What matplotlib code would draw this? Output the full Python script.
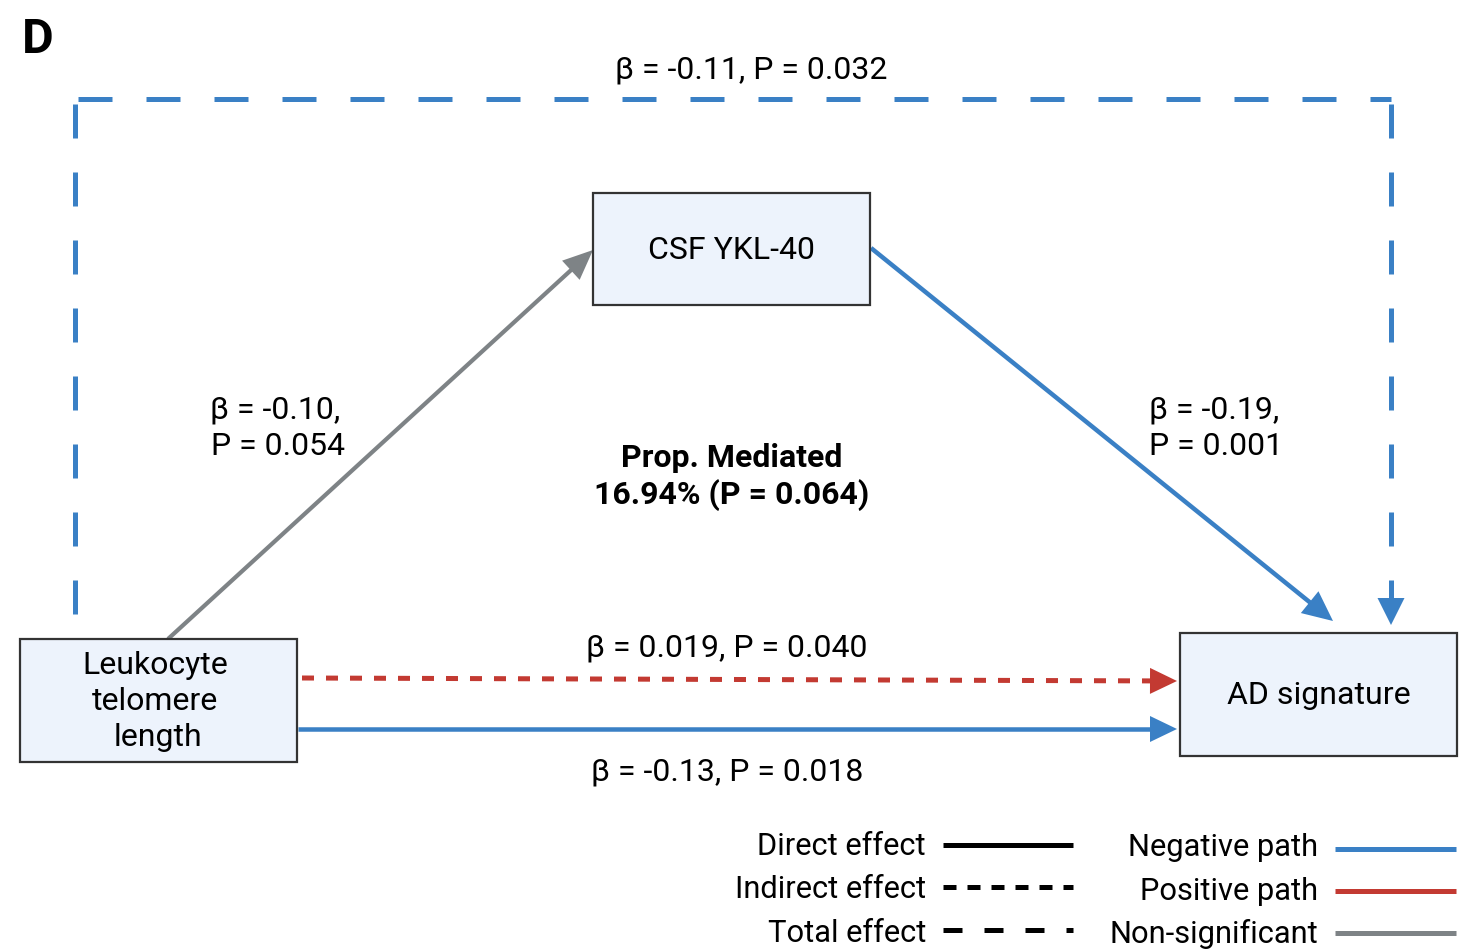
import matplotlib
matplotlib.use('Agg')
import matplotlib.pyplot as plt
from matplotlib.patches import Rectangle, Polygon
import numpy as np

# path estimates
node_names = ['Leukocyte\ntelomere\nlength', 'CSF YKL-40', 'AD signature']
total_beta, total_p = '-0.11', '0.032'
a_beta, a_p = '-0.10', '0.054'
b_beta, b_p = '-0.19', '0.001'
indirect_beta, indirect_p = '0.019', '0.040'
direct_beta, direct_p = '-0.13', '0.018'
prop_mediated, prop_p = '16.94', '0.064'
effect_labels = ['Direct effect', 'Indirect effect', 'Total effect']
sign_labels = ['Negative path', 'Positive path', 'Non-significant']

BLUE = '#3a80c5'
RED = '#c33a32'
GRAY = '#7e8386'
BOX_FC = '#edf3fc'
BOX_EC = '#333333'
PX = 0.72  # pixels -> points at dpi 100
FS = 23
FS_LEG = 22.2

plt.rcParams['font.family'] = ['Roboto', 'DejaVu Sans']
plt.rcParams['lines.scale_dashes'] = False

fig = plt.figure(figsize=(14.66, 9.51), dpi=100)
ax = fig.add_axes([0, 0, 1, 1])
ax.set_xlim(0, 1466)
ax.set_ylim(951, 0)
ax.axis('off')


def arrow(p0, p1, color, lw, dashes=None, hl=27, hw=27):
	p0 = np.array(p0, float)
	p1 = np.array(p1, float)
	u = (p1 - p0) / np.linalg.norm(p1 - p0)
	base = p1 - hl * u
	ls = '-' if dashes is None else (0, dashes)
	ax.plot([p0[0], base[0] + u[0]], [p0[1], base[1] + u[1]], color=color,
		lw=lw, ls=ls, solid_capstyle='butt', dash_capstyle='butt')
	perp = np.array([-u[1], u[0]])
	tri = [p1, base + perp * hw / 2, base - perp * hw / 2]
	ax.add_patch(Polygon(tri, closed=True, fc=color, ec='none'))


def box(x0, y0, x1, y1, lines, baselines, xc=None):
	ax.add_patch(Rectangle((x0, y0), x1 - x0, y1 - y0, fc=BOX_FC, ec=BOX_EC, lw=1.6, zorder=3))
	xc = xc or [(x0 + x1) / 2] * len(lines)
	for t, x, yb in zip(lines, xc, baselines):
		ax.text(x, yb, t, ha='center', va='baseline', fontsize=FS, zorder=4)


# total effect (dashed frame)
big = (0, (34 * PX, 34 * PX))
ax.plot([75, 75], [104, 615], color=BLUE, lw=5 * PX, ls=big, dash_capstyle='butt')
ax.plot([78, 1391], [99, 99], color=BLUE, lw=5 * PX, ls=big, dash_capstyle='butt')
arrow((1391, 104), (1391, 625), BLUE, 5 * PX, dashes=(34 * PX, 34 * PX), hl=27, hw=27)

# a path, b path
arrow((168, 639), (593, 250), GRAY, 4.2 * PX, hl=30, hw=26)
arrow((871, 248), (1333, 621), BLUE, 4.5 * PX, hl=30, hw=28)

# indirect and direct effects
arrow((302, 678), (1177, 681), RED, 5 * PX, dashes=(12 * PX, 12 * PX), hl=27, hw=26)
arrow((298, 729), (1177, 729), BLUE, 4.5 * PX, hl=27, hw=26)

box(20, 639, 297, 762, node_names[0].split('\n'), [674, 710, 746], xc=[155, 155, 158])
box(593, 193, 870, 305, [node_names[1]], [259])
box(1180, 633, 1457, 756, [node_names[2]], [704])

ax.text(22, 53, 'D', fontsize=35, fontweight='bold', va='baseline', ha='left')
ax.text(751, 78, f'\u03b2 = {total_beta}, P = {total_p}', fontsize=FS, ha='center', va='baseline')
ax.text(275, 419, f'\u03b2 = {a_beta},', fontsize=FS, ha='center', va='baseline')
ax.text(278, 455, f'P = {a_p}', fontsize=FS, ha='center', va='baseline')
ax.text(1214, 419, f'\u03b2 = {b_beta},', fontsize=FS, ha='center', va='baseline')
ax.text(1216, 455, f'P = {b_p}', fontsize=FS, ha='center', va='baseline')
ax.text(732, 467, 'Prop. Mediated', fontsize=FS, fontweight='bold', ha='center', va='baseline')
ax.text(732, 504, f'{prop_mediated}% (P = {prop_p})', fontsize=FS, fontweight='bold', ha='center', va='baseline')
ax.text(727, 657, f'\u03b2 = {indirect_beta}, P = {indirect_p}', fontsize=FS, ha='center', va='baseline')
ax.text(727, 781, f'\u03b2 = {direct_beta}, P = {direct_p}', fontsize=FS, ha='center', va='baseline')

# legend
eff_styles = ['-', (0, (13 * PX, 11 * PX)), (0, (19 * PX, 22 * PX))]
eff_y = [845, 887, 930]
eff_base = [855, 898, 942]
for lab, ls, y, yb in zip(effect_labels, eff_styles, eff_y, eff_base):
	ax.text(926, yb, lab, fontsize=FS_LEG, ha='right', va='baseline')
	ax.plot([943, 1073], [y, y], color='black', lw=5 * PX, ls=ls, solid_capstyle='butt', dash_capstyle='butt')

sign_colors = [BLUE, RED, GRAY]
sign_y = [849, 891, 933]
sign_base = [856, 900, 943]
for lab, c, y, yb in zip(sign_labels, sign_colors, sign_y, sign_base):
	ax.text(1318, yb, lab, fontsize=FS_LEG, ha='right', va='baseline')
	ax.plot([1335, 1456], [y, y], color=c, lw=5 * PX, solid_capstyle='butt')

fig.savefig('out.png', dpi=100)
